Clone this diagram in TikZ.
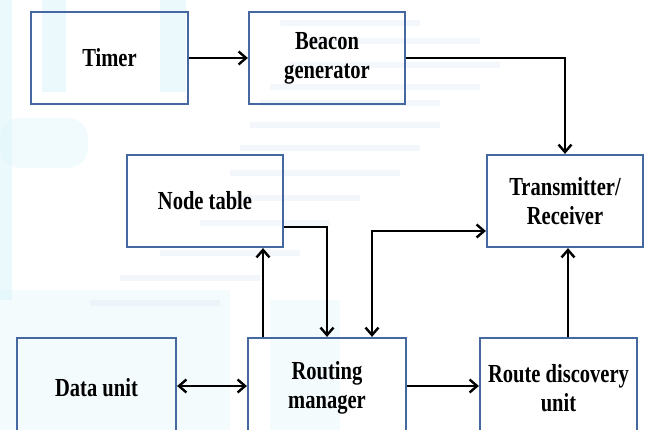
\documentclass[tikz,border=0pt]{standalone}
\usepackage{fontspec}
\setmainfont{Liberation Serif}[FakeStretch=0.79]
\usetikzlibrary{arrows.meta}
\definecolor{boxline}{RGB}{70,104,160}
\definecolor{washcyan}{RGB}{222,246,251}
\definecolor{washgrey}{RGB}{232,239,247}
\tikzset{
  block/.style={draw=boxline, line width=2.2pt, rectangle,
    align=center, inner sep=2pt,
    font=\fontsize{26}{29}\selectfont\bfseries},
  tip/.tip={Straight Barb[length=7.5pt,width=13pt,line width=2.4pt]},
  arr/.style={line width=2.8pt, -tip},
  arrtwo/.style={line width=2.8pt, tip-tip},
  wash/.style={fill=washcyan, draw=none, opacity=0.6},
  streak/.style={fill=washgrey, draw=none, opacity=0.5}
}
\begin{document}
\begin{tikzpicture}[x=1pt,y=-1pt]
\clip (0,0) rectangle (647,430);
\fill[white] (0,0) rectangle (647,430);

% faint background wash
\fill[wash] (0,0) rectangle (12,300);
\fill[wash] (42,0) rectangle (66,92);
\fill[wash] (160,0) rectangle (186,92);
\fill[wash, opacity=0.4, rounded corners=20pt] (0,118) rectangle (88,168);
\fill[wash, opacity=0.35] (0,290) rectangle (230,430);
\fill[wash, opacity=0.35] (270,300) rectangle (340,430);
\foreach \ya/\xa/\xb in {20/280/420, 38/300/480, 62/290/500, 84/270/480, 100/260/440,
  122/250/440, 145/240/420, 170/230/400, 195/220/360, 220/200/330, 250/160/300,
  275/120/260, 300/90/220}
  \fill[streak] (\xa,\ya) rectangle (\xb,\ya+6);

% blocks
\node[block, minimum width=157pt, minimum height=92pt] (timer) at (109.5,58) {Timer};
\node[block, minimum width=156pt, minimum height=92pt] (beacon) at (327,58) {Beacon\\generator};
\node[block, minimum width=156pt, minimum height=92pt] (nt) at (205,201) {Node table};
\node[block, minimum width=156pt, minimum height=92pt] (tr) at (565,201) {Transmitter/\\Receiver};
\node[block, minimum width=159pt, minimum height=100pt] (du) at (96.5,388) {Data unit};
\node[block, minimum width=158pt, minimum height=100pt] (rm) at (327,388) {Routing\\manager};
\node[block, minimum width=157pt, minimum height=100pt] (rd) at (558.5,388) {Route discovery\\unit};

% helper coordinates for the elbow connectors
\coordinate (ya) at (0,227);
\coordinate (yb) at (0,231);
\coordinate (yc) at (0,386);
\coordinate (xa) at (263,0);
\coordinate (xb) at (327,0);
\coordinate (xc) at (372,0);
\coordinate (xd) at (568,0);

% connectors
\draw[arr] (timer) -- (beacon);
\draw[arr] (beacon.east) -| (tr.north);
\draw[arr] (nt.east |- ya) -| (rm.north -| xb);
\draw[arr] (rm.north -| xa) -- (nt.south -| xa);
\draw[arrtwo] (rm.north -| xc) |- (tr.west |- yb);
\draw[arr] (rd.north -| xd) -- (tr.south -| xd);
\draw[arrtwo] (du.east |- yc) -- (rm.west |- yc);
\draw[arr] (rm.east |- yc) -- (rd.west |- yc);
\end{tikzpicture}
\end{document}
